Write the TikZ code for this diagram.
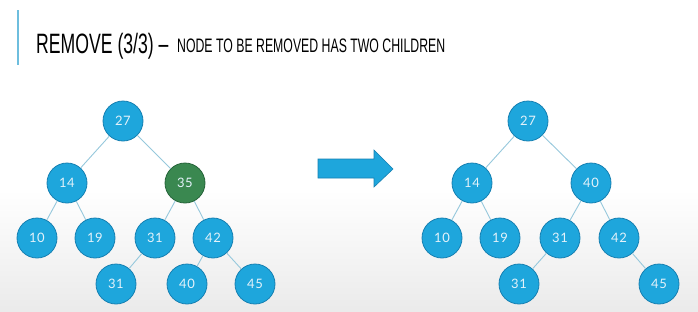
\documentclass[tikz,border=0pt]{standalone}
\usepackage{fontspec}
\setmainfont{Liberation Sans}
\newfontfamily\titlefont[FakeStretch=0.63]{Liberation Sans}
\newfontfamily\nodefont[LetterSpace=4]{Lato}
\definecolor{nodeblue}{RGB}{30,166,220}
\definecolor{nodeedge}{RGB}{22,128,178}
\definecolor{nodegreen}{RGB}{58,136,80}
\definecolor{greenedge}{RGB}{38,100,58}
\definecolor{linkcol}{RGB}{150,200,220}
\definecolor{barcol}{RGB}{110,190,222}
\definecolor{txtcol}{RGB}{228,242,250}
\tikzset{
  bst/.style={circle, minimum size=40pt, inner sep=0pt, fill=nodeblue, draw=nodeedge, line width=0.8pt, text=txtcol, font=\nodefont\fontsize{13}{13}\selectfont},
  removed/.style={bst, fill=nodegreen, draw=greenedge},
  link/.style={draw=linkcol, line width=0.9pt},
  bigarrow/.style={fill=nodeblue, draw=nodeedge, line width=0.6pt}
}
\begin{document}
\begin{tikzpicture}[x=1pt,y=-1pt]
\useasboundingbox (0,0) rectangle (698,311);
\fill[white] (0,0) rectangle (698,311);
\shade[top color=white, bottom color=gray!16] (0,190) rectangle (698,311);
% title
\draw[barcol, line width=1.5pt] (18,10) -- (18,65);
\node[anchor=base west, inner sep=0pt, font=\titlefont\fontsize{28}{28}\selectfont] (t1) at (36,53) {REMOVE (3/3) –};
\node[anchor=base west, inner sep=0pt, font=\titlefont\fontsize{19.5}{19.5}\selectfont] (t2) at (177,52) {NODE TO BE REMOVED HAS TWO CHILDREN};
% left tree
\node[bst] (a27) at (123,121) {27};
\node[bst] (a14) at (67,183) {14};
\node[removed] (a35) at (185,183) {35};
\node[bst] (a10) at (37,238) {10};
\node[bst] (a19) at (95,238) {19};
\node[bst] (a31) at (155,238) {31};
\node[bst] (a42) at (213,238) {42};
\node[bst] (a31b) at (116,284) {31};
\node[bst] (a40) at (187,284) {40};
\node[bst] (a45) at (255,284) {45};
% right tree
\node[bst] (b27) at (528,121) {27};
\node[bst] (b14) at (472,183) {14};
\node[bst] (b40) at (591,183) {40};
\node[bst] (b10) at (442,238) {10};
\node[bst] (b19) at (500,238) {19};
\node[bst] (b31) at (560,238) {31};
\node[bst] (b42) at (619,238) {42};
\node[bst] (b31b) at (519,284) {31};
\node[bst] (b45) at (659,284) {45};
% links
\foreach \p/\c in {a27/a14,a27/a35,a14/a10,a14/a19,a35/a31,a35/a42,a31/a31b,a42/a40,a42/a45,
                   b27/b14,b27/b40,b14/b10,b14/b19,b40/b31,b40/b42,b31/b31b,b42/b45}
  \draw[link] (\p) -- (\c);
% arrow
\coordinate (ar) at (318,159);
\draw[bigarrow] (ar) -- ++(56,0) -- ++(0,-9) -- ++(19,19) -- ++(-19,18) -- ++(0,-9) -- ++(-56,0) -- cycle;
\end{tikzpicture}
\end{document}
